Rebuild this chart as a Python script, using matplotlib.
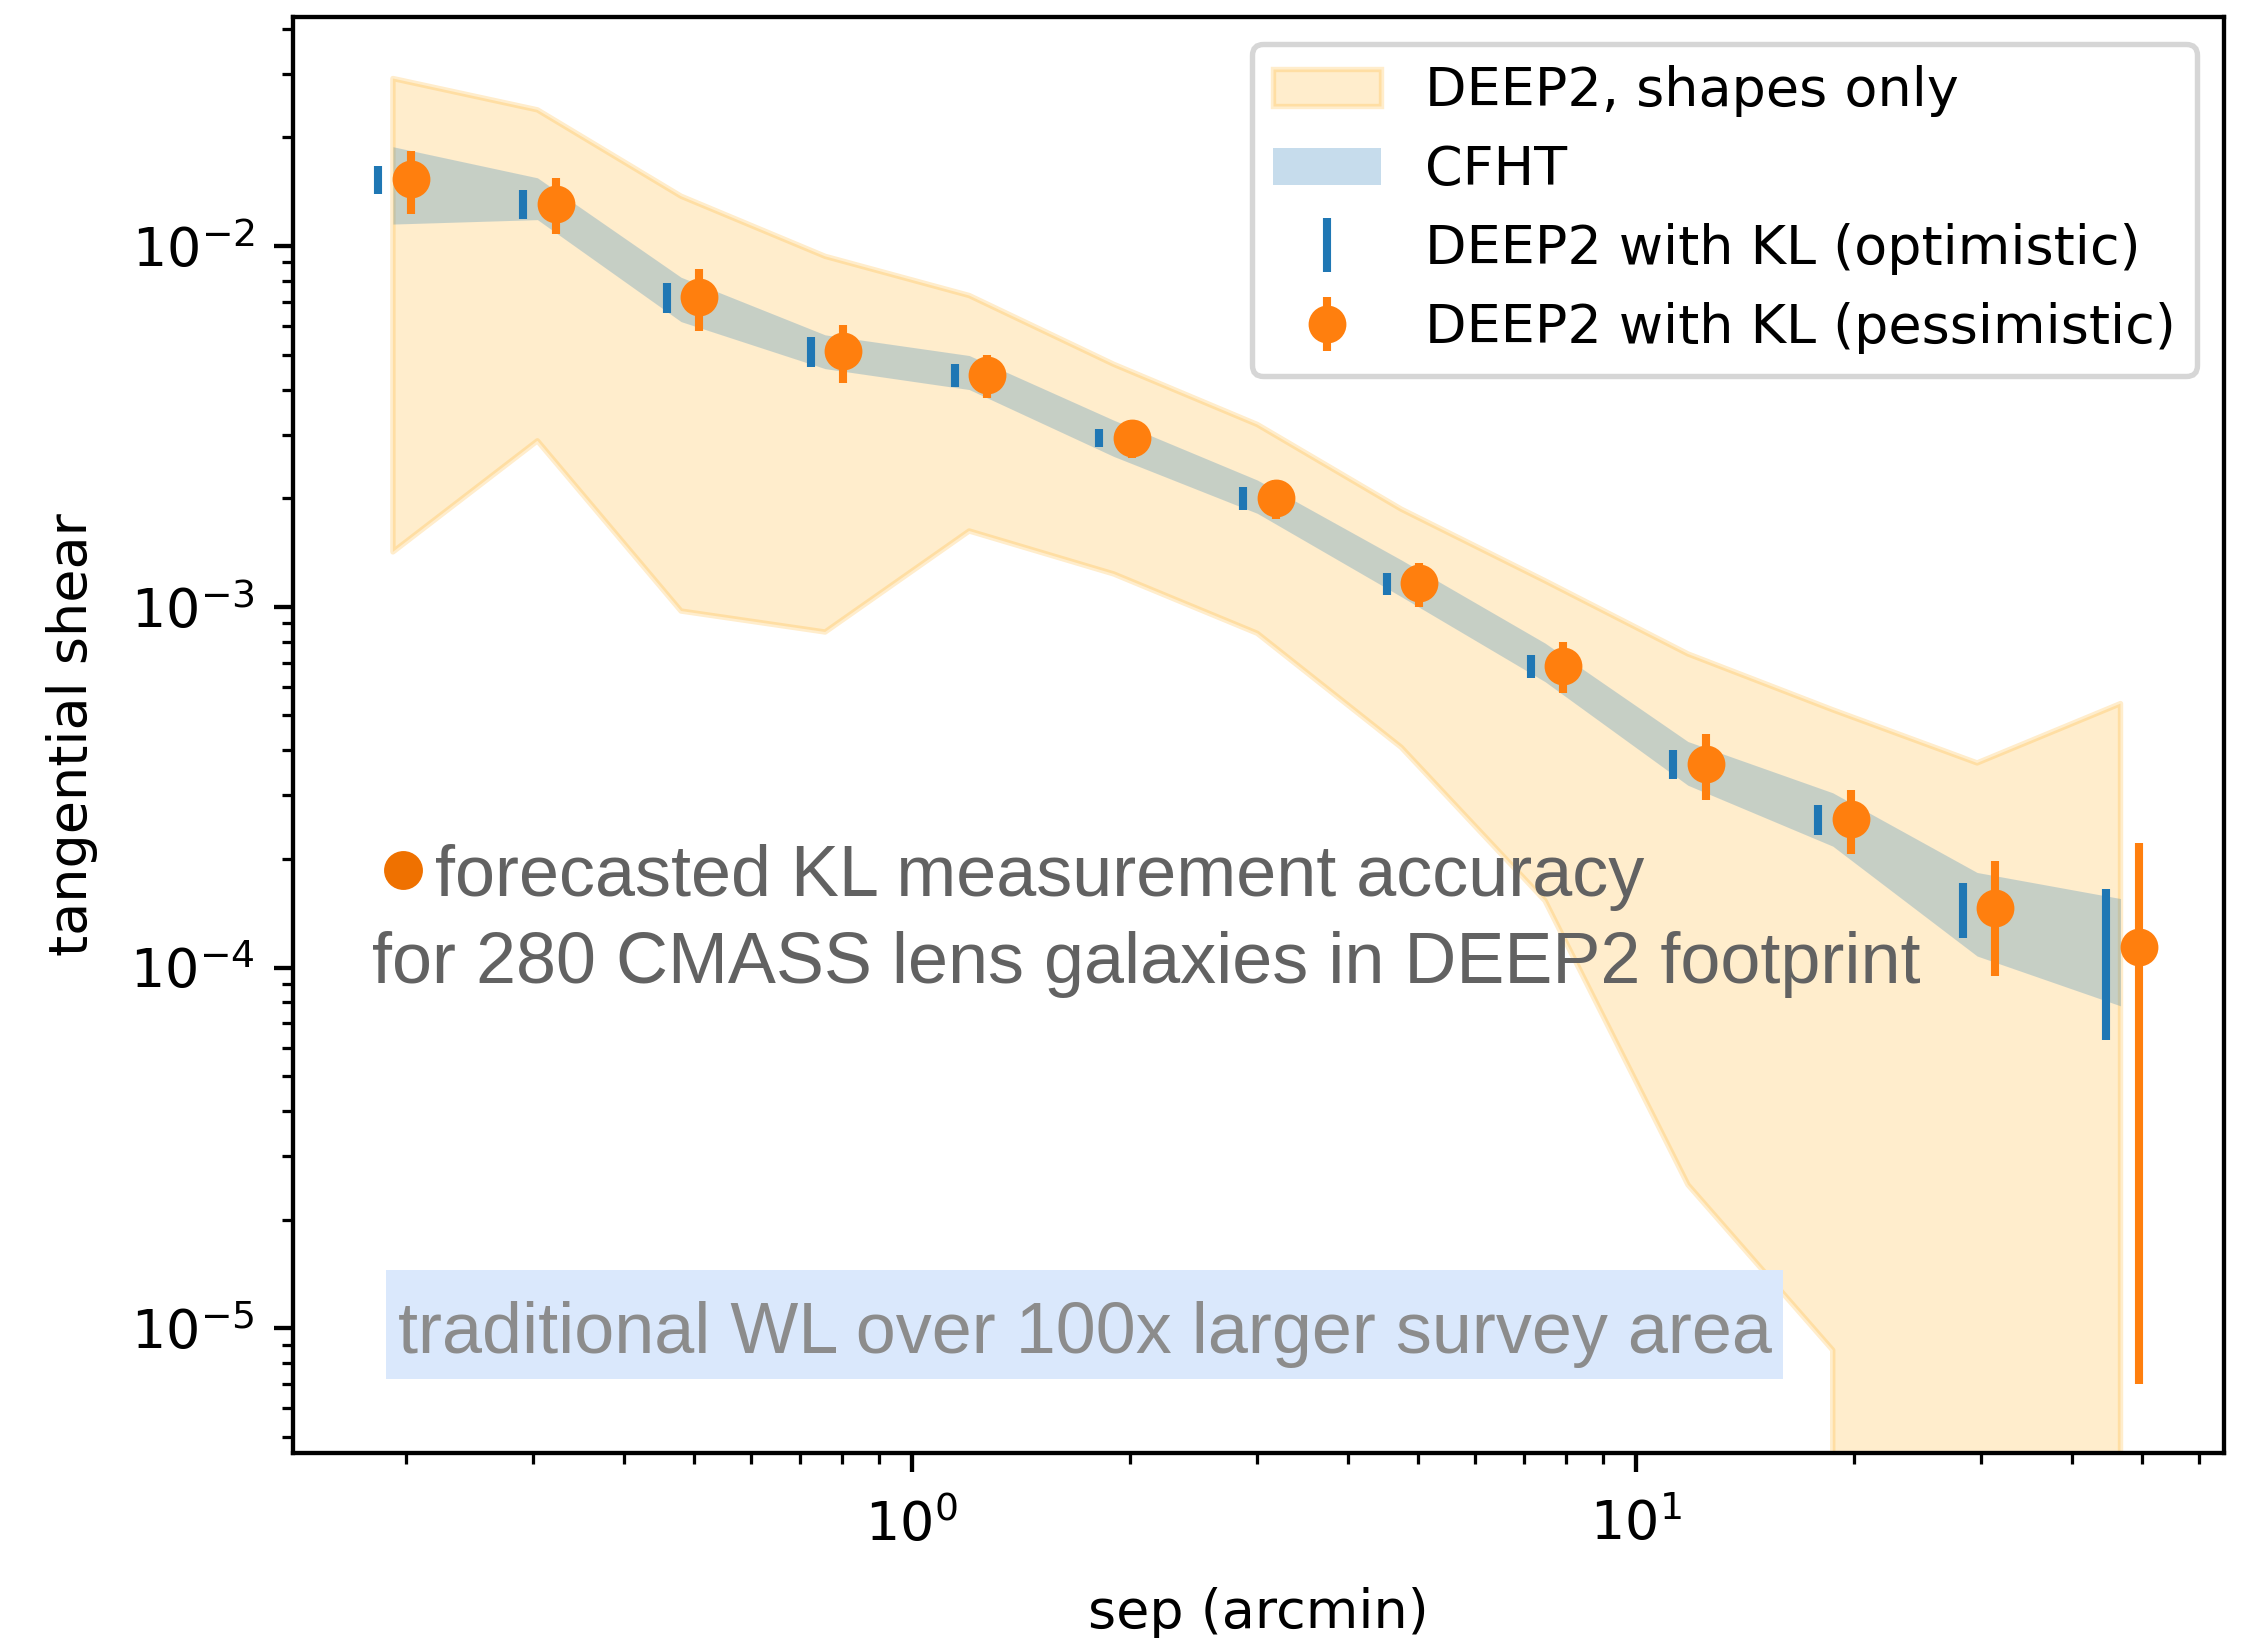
import matplotlib
matplotlib.use("Agg")
import matplotlib.pyplot as plt
from matplotlib.lines import Line2D
from matplotlib.patches import Rectangle

# ---- data ----
sep = [0.192, 0.304, 0.480, 0.759, 1.20, 1.90, 3.00, 4.74, 7.49, 11.8, 18.7, 29.6, 46.7]

gamma_t = [0.0153, 0.0131, 0.00721, 0.00511, 0.00439, 0.00294, 0.00200,
           0.00116, 6.86e-4, 3.67e-4, 2.58e-4, 1.46e-4, 1.14e-4]

err_optimistic = [0.0014, 0.0012, 0.0007, 0.0005, 0.00033, 0.000175, 0.000143,
                  8.3e-5, 5.0e-5, 3.4e-5, 2.5e-5, 2.5e-5, 5.1e-5]

err_pessimistic = [0.0030, 0.0023, 0.0014, 0.00093, 0.0006, 0.00035, 0.00025,
                   0.00016, 1.1e-4, 7.6e-5, 5.2e-5, 5.1e-5, 1.07e-4]

cfht_hi = [0.01884, 0.01545, 0.00819, 0.00567, 0.00497, 0.00329, 0.002245,
           0.001349, 7.93e-4, 4.23e-4, 3.05e-4, 1.834e-4, 1.553e-4]
cfht_lo = [0.01150, 0.01183, 0.00617, 0.00457, 0.00400, 0.00261, 0.001815,
           0.001067, 6.2e-4, 3.2e-4, 2.17e-4, 1.076e-4, 7.83e-5]

shapes_hi = [0.02912, 0.02384, 0.01374, 0.00936, 0.00729, 0.0047, 0.0032,
             0.001865, 0.00118, 7.4e-4, 5.18e-4, 3.69e-4, 5.39e-4]
shapes_lo = [0.001419, 0.002884, 9.73e-4, 8.51e-4, 0.001622, 0.001233, 8.44e-4,
             4.08e-4, 1.532e-4, 2.5e-5, 8.7e-6, -1.0e-4, -3.0e-4]

labels = ["DEEP2, shapes only", "CFHT",
          "DEEP2 with KL (optimistic)", "DEEP2 with KL (pessimistic)"]

# ---- figure ----
W, H = 2249, 1638
DPI = 388.8
fig = plt.figure(figsize=(W / DPI, H / DPI), dpi=DPI)
ax = fig.add_axes([292.7 / W, 1 - 1452.7 / H, (2224 - 292.7) / W, (1452.7 - 16.7) / H])
ax.set_xscale("log")
ax.set_yscale("log")

ax.fill_between(sep, shapes_lo, shapes_hi, color="orange", alpha=0.2, lw=1.0,
                label=labels[0])
ax.fill_between(sep, cfht_lo, cfht_hi, color="C0", alpha=0.25, lw=0,
                label=labels[1])
ax.errorbar([s * 0.955 for s in sep], gamma_t, yerr=err_optimistic, fmt="none",
            color="C0", label=labels[2])
ax.errorbar([s * 1.06 for s in sep], gamma_t, yerr=err_pessimistic, fmt="o",
            color="C1", label=labels[3])

ax.set_xlim(0.1396, 64.9)
ax.set_ylim(4.52e-6, 0.0432)
ax.tick_params(axis="x", which="both", pad=5.0)
ax.set_xlabel("sep (arcmin)", labelpad=6.5)
ax.set_ylabel("tangential shear", labelpad=5.9)
ax.legend(loc="upper right")

# ---- overlay annotations ----
ann_font = ["Liberation Sans", "DejaVu Sans"]
fs = 13.33
fig.add_artist(Line2D([402.7 / W], [1 - 870 / H], transform=fig.transFigure,
                      marker="o", ms=7.2, mew=0, color="#ef7100", linestyle="none"))
fig.text(435 / W, 1 - 896 / H, "forecasted KL measurement accuracy",
         fontsize=fs, family=ann_font, color="#626262", va="baseline", ha="left")
fig.text(371.7 / W, 1 - 983.3 / H, "for 280 CMASS lens galaxies in DEEP2 footprint",
         fontsize=fs, family=ann_font, color="#626262", va="baseline", ha="left")

fig.add_artist(Rectangle((386 / W, 1 - 1378.6 / H), (1783 - 386) / W, 108.8 / H,
                         transform=fig.transFigure, facecolor="#dae8fc",
                         edgecolor="none", zorder=5))
fig.text(398 / W, 1 - 1353.5 / H, "traditional WL over 100x larger survey area",
         fontsize=fs, family=ann_font, color="#8c8c8c", va="baseline", ha="left",
         zorder=6)

fig.savefig("out.png", dpi=DPI)
